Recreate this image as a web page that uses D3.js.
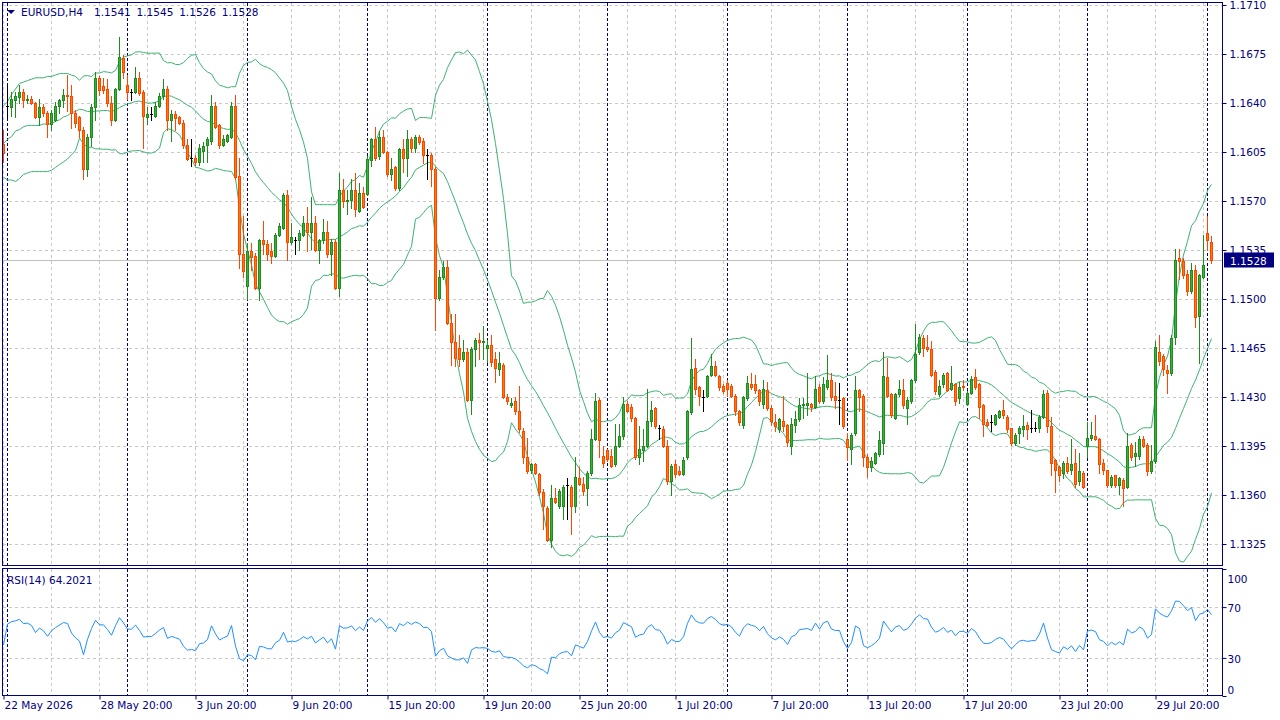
<!DOCTYPE html>
<html>
<head>
<meta charset="utf-8">
<script src="https://cdn.jsdelivr.net/npm/d3@7"></script>
<style>
  body { margin: 0; background: #fff; }
  text { font-family: "DejaVu Sans", sans-serif; font-size: 10.5px; }
</style>
</head>
<body>
<svg id="chart" width="1280" height="720"></svg>
<script>
// EURUSD H4, 303 bars. Prices are stored in pips above 1.1000
const base = 1.1;

const open = [
  611,638,637,642,644,648,642,643,640,630, 637,633,625,628,638,642,646,645,633,630,
  621,593,616,637,658,652,650,640,628,650, 672,653,648,648,658,648,630,632,631,638,
  645,650,628,632,630,626,610,601,601,598, 606,610,613,638,624,610,613,616,638,588,
  532,509,534,531,508,542,539,534,531,546, 551,574,541,542,542,546,554,548,554,535,
  542,548,532,541,508,578,570,571,578,563, 576,575,599,614,602,616,605,589,594,579,
  607,601,614,608,616,613,603,603,593,501, 516,523,483,469,465,457,462,428,464,471,
  469,465,467,457,450,453,430,424,427,420, 406,387,378,382,375,362,351,328,358,352,
  352,367,366,352,372,368,365,376,400,428, 388,392,388,382,395,402,425,423,415,387,
  392,395,413,422,408,407,395,370,382,377, 375,387,419,451,437,430,431,446,452,445,
  438,440,438,431,420,410,429,439,439,435, 425,435,422,412,407,413,410,395,410,414,
  424,424,425,423,437,427,437,442,431,428, 429,400,393,404,435,431,387,380,383,389,
  397,444,432,415,432,435,422,427,442,462, 472,466,464,448,432,439,447,436,439,429,
  438,425,433,444,439,424,412,412,411,416, 421,416,408,397,404,407,410,408,408,408,
  416,433,409,385,380,376,383,378,383,370, 376,395,401,402,400,383,378,367,374,367,
  371,366,396,388,388,400,396,377,384,462, 459,449,447,473,529,527,518,506,521,488,
  516,547,541
];
const high = [
  621,652,648,648,653,650,646,645,641,643, 639,634,635,641,643,650,660,653,635,631,
  623,618,639,662,659,658,657,645,651,687, 674,660,650,666,662,649,637,637,641,647,
  657,652,635,634,631,628,614,614,603,611, 612,616,646,641,625,617,618,641,646,601,
  559,540,540,533,543,556,542,540,547,554, 576,578,554,544,549,559,566,573,559,543,
  557,556,543,543,590,586,578,586,590,583, 580,602,615,623,620,621,606,601,595,608,
  614,621,616,617,617,615,607,604,594,521, 527,528,489,489,474,471,465,466,472,476,
  481,471,474,462,462,454,432,429,430,438, 408,401,383,383,376,364,352,367,365,364,
  367,372,367,387,380,373,377,407,433,429, 395,393,393,411,411,430,427,425,416,409,
  407,436,427,423,410,409,399,382,385,381, 387,421,472,457,438,435,446,461,456,446,
  439,442,439,432,421,431,445,447,446,436, 442,441,424,418,415,431,411,415,420,429,
  429,447,426,445,439,444,460,447,441,440, 430,404,404,445,436,432,389,387,391,406,
  462,458,433,433,442,443,430,443,482,475, 474,474,470,449,442,447,448,452,440,441,
  442,434,445,450,440,425,414,417,418,421, 428,417,408,404,409,417,412,421,412,417,
  435,435,416,386,381,384,387,400,393,390, 377,412,412,417,401,386,378,374,374,373,
  372,404,397,398,402,402,397,396,470,474, 461,453,474,536,536,529,521,526,524,518,
  546,559,545
];
const low = [
  598,629,631,630,640,637,640,639,629,624, 631,616,621,627,633,637,634,622,623,616,
  586,588,609,628,646,647,638,624,627,649, 658,643,642,647,646,608,625,628,630,637,
  643,621,613,621,625,608,599,595,596,596, 598,598,611,622,608,609,612,615,586,522,
  516,500,521,507,499,532,528,526,530,545, 550,528,539,532,535,545,534,536,534,526,
  540,530,517,507,502,566,561,565,559,562, 565,574,595,599,600,604,588,585,578,578,
  591,588,605,605,611,597,586,581,478,499, 514,482,453,452,452,456,427,418,452,457,
  457,455,452,441,446,429,425,423,418,405, 383,376,376,375,360,336,327,323,354,351,
  343,343,332,348,367,360,353,374,399,387, 380,384,380,381,394,400,419,413,386,382,
  384,394,409,408,400,394,368,360,373,374, 374,386,418,432,424,420,430,445,445,435,
  433,431,430,417,410,408,428,436,433,424, 422,421,410,406,405,406,395,389,405,413,
  415,417,420,422,426,426,436,428,422,411, 408,385,382,403,420,381,373,377,382,388,
  389,430,416,414,431,422,411,426,441,461, 459,463,445,432,431,437,434,435,424,426,
  435,424,432,436,415,402,409,406,410,415, 415,405,396,396,397,402,400,405,406,405,
  415,405,374,362,370,372,376,375,366,367, 365,387,399,399,376,375,366,366,366,361,
  352,365,385,381,386,394,374,376,383,453, 446,433,446,468,514,515,503,504,480,454,
  515,535,526
];
const close = [
  604,638,643,645,648,642,643,640,630,637, 633,625,633,638,642,646,645,633,626,621,
  593,616,637,658,649,649,640,628,650,673, 662,648,648,658,647,631,632,632,638,645,
  650,628,632,629,626,610,600,601,598,608, 609,614,638,623,610,614,617,638,587,532,
  520,534,530,508,542,539,532,531,546,552, 574,541,544,542,547,554,548,554,535,542,
  548,532,541,508,578,570,571,578,564,576, 566,600,614,601,616,605,589,593,579,607,
  601,614,608,616,612,603,603,593,501,516, 523,483,469,458,457,462,428,464,471,469,
  470,467,455,451,454,430,427,426,420,407, 387,377,382,376,362,352,328,358,355,363,
  366,367,352,373,368,363,376,400,427,399, 383,386,381,395,402,425,420,415,387,393,
  395,413,421,409,408,395,370,381,375,375, 385,420,450,436,431,430,445,452,446,437,
  434,436,431,420,412,430,440,437,435,427, 436,422,413,409,414,409,398,411,414,424,
  425,426,423,436,427,439,442,430,428,428, 409,394,403,435,430,387,380,384,390,399,
  445,431,417,432,436,424,428,442,461,473, 465,464,446,434,438,446,435,440,427,437,
  437,433,443,437,423,411,410,412,417,420, 417,407,397,403,408,409,407,408,408,416,
  432,409,383,378,374,383,377,382,368,377, 366,401,403,400,382,378,367,373,367,372,
  365,395,387,390,400,395,377,384,466,456, 450,447,472,528,527,517,506,521,487,517,
  524,542,528
];

// Bollinger(20,2) for the first 19 bars (their window starts before the chart)
const bbUpperHead  = [638,641,646,650,654,655,656,657,658,658,658,659,659,660,661,661,661,660,659];
const bbMiddleHead = [611,614,616,620,621,623,624,624,624,624,625,625,625,627,628,630,631,633,634];
const bbLowerHead  = [587,585,585,584,586,589,590,591,591,591,591,591,592,594,596,598,600,603,606];

// RSI(14) Wilder averages at the first bar, fitted to the first two readings
const rsiStartGain = 2.76;
const rsiStartLoss = 4.11;

const priceTicks = [1.1325,1.1360,1.1395,1.1430,1.1465,1.1500,1.1535,1.1570,1.1605,1.1640,1.1675,1.1710];
const rsiTicks = [0, 30, 70, 100];
const rsiLevels = [30, 70];
const dateBars = [0,24,48,72,96,120,144,168,192,216,240,264,288];
const dateLabels = ['22 May 2026','28 May 20:00','3 Jun 20:00','9 Jun 20:00','15 Jun 20:00','19 Jun 20:00',
  '25 Jun 20:00','1 Jul 20:00','7 Jul 20:00','13 Jul 20:00','17 Jul 20:00','23 Jul 20:00','29 Jul 20:00'];
const gridBars = d3.range(0, 303, 12);
const weekBars = [1,31,61,91,121,151,181,211,241,271,301];
const headerValues = ['1.1541','1.1545','1.1526','1.1528'];
const lastPrice = 1.1528;

const navy = '#000080';
const svg = d3.select('#chart');

// scales
const x = d3.scaleLinear().domain([0, 302]).range([3.5, 1211.5]);
const y = d3.scaleLinear().domain([1.1325, 1.1710]).range([544, 5]);
const py = (v) => y(base + v / 10000);
const yr = d3.scaleLinear().domain([0, 100]).range([696, 569]);

const main = { top: 3, bottom: 566 };
const sub = { top: 569, bottom: 695 };

// indicators
const bands = close.map(function (c, i) {
  if (i < 19) return { up: bbUpperHead[i], mid: bbMiddleHead[i], lo: bbLowerHead[i] };
  const w = close.slice(i - 19, i + 1);
  const m = d3.mean(w);
  const sd = Math.sqrt(d3.mean(w, (v) => (v - m) * (v - m)));
  return { up: m + 2 * sd, mid: m, lo: m - 2 * sd };
});
let avgGain = rsiStartGain, avgLoss = rsiStartLoss;
const rsi = close.map(function (c, i) {
  if (i > 0) {
    const d = c - close[i - 1];
    avgGain = (avgGain * 13 + Math.max(d, 0)) / 14;
    avgLoss = (avgLoss * 13 + Math.max(-d, 0)) / 14;
  }
  return 100 - 100 / (1 + avgGain / avgLoss);
});

const defs = svg.append('defs');
defs.append('clipPath').attr('id', 'clipMain').append('rect')
  .attr('x', 3).attr('y', 3).attr('width', 1219).attr('height', 563);
defs.append('clipPath').attr('id', 'clipSub').append('rect')
  .attr('x', 3).attr('y', 569).attr('width', 1219).attr('height', 126);

// grid
const grid = svg.append('g').attr('stroke', '#c8c8c8').attr('stroke-dasharray', '3,3').attr('shape-rendering', 'crispEdges');
grid.selectAll('.hg').data(priceTicks).enter().append('line')
  .attr('x1', 3).attr('x2', 1222).attr('y1', (d) => Math.round(y(d)) + 0.5).attr('y2', (d) => Math.round(y(d)) + 0.5);
grid.selectAll('.rg').data(rsiLevels).enter().append('line')
  .attr('x1', 3).attr('x2', 1222).attr('y1', (d) => Math.round(yr(d)) + 0.5).attr('y2', (d) => Math.round(yr(d)) + 0.5);
[main, sub].forEach(function (p) {
  grid.append('g').selectAll('line').data(gridBars).enter().append('line')
    .attr('x1', (d) => x(d)).attr('x2', (d) => x(d)).attr('y1', p.top).attr('y2', p.bottom);
});

// weekly separators
const sep = svg.append('g').attr('stroke', navy).attr('stroke-dasharray', '3,2').attr('shape-rendering', 'crispEdges');
[main, sub].forEach(function (p) {
  sep.append('g').selectAll('line').data(weekBars).enter().append('line')
    .attr('x1', (d) => x(d)).attr('x2', (d) => x(d)).attr('y1', p.top).attr('y2', p.bottom);
});

// last price line
svg.append('line').attr('x1', 3).attr('x2', 1222)
  .attr('y1', Math.round(y(lastPrice)) + 0.5).attr('y2', Math.round(y(lastPrice)) + 0.5)
  .attr('stroke', '#c0c0c0').attr('shape-rendering', 'crispEdges');

// bollinger bands
const plot = svg.append('g').attr('clip-path', 'url(#clipMain)');
['up', 'mid', 'lo'].forEach(function (k) {
  plot.append('path').datum(bands)
    .attr('fill', 'none').attr('stroke', '#3cb371').attr('stroke-width', 1)
    .attr('d', d3.line().x((d, i) => x(i)).y((d) => py(d[k])));
});

// candles
const bars = plot.selectAll('.bar').data(close.map((c, i) => i)).enter().append('g')
  .attr('shape-rendering', 'crispEdges');
function colorOf(i) {
  if (close[i] > open[i]) return { line: '#1f8c1f', fill: '#36b336' };
  if (close[i] < open[i]) return { line: '#ff4500', fill: '#ff7a00' };
  return { line: '#000', fill: '#000' };
}
bars.append('line')
  .attr('x1', (i) => x(i)).attr('x2', (i) => x(i))
  .attr('y1', (i) => Math.round(py(high[i]))).attr('y2', (i) => Math.round(py(low[i])) + 1)
  .attr('stroke', (i) => colorOf(i).line);
bars.filter((i) => close[i] !== open[i]).append('rect')
  .attr('x', (i) => x(i) - 1)
  .attr('y', (i) => Math.round(py(Math.max(open[i], close[i]))) + 0.5)
  .attr('width', 2)
  .attr('height', (i) => Math.max(1, Math.round(py(Math.min(open[i], close[i]))) - Math.round(py(Math.max(open[i], close[i])))))
  .attr('fill', (i) => colorOf(i).fill)
  .attr('stroke', (i) => colorOf(i).line);
bars.filter((i) => close[i] === open[i]).append('line')
  .attr('x1', (i) => x(i) - 1.5).attr('x2', (i) => x(i) + 1.5)
  .attr('y1', (i) => Math.round(py(close[i])) + 0.5).attr('y2', (i) => Math.round(py(close[i])) + 0.5)
  .attr('stroke', '#000');

// RSI line
svg.append('g').attr('clip-path', 'url(#clipSub)').append('path').datum(rsi)
  .attr('fill', 'none').attr('stroke', '#1e90ff').attr('stroke-width', 1)
  .attr('d', d3.line().x((d, i) => x(i)).y((d) => yr(d)));

// panel frames
svg.append('rect').attr('x', 2.5).attr('y', 2.5).attr('width', 1220).attr('height', 563)
  .attr('fill', 'none').attr('stroke', navy).attr('shape-rendering', 'crispEdges');
svg.append('rect').attr('x', 2.5).attr('y', 568.5).attr('width', 1220).attr('height', 127)
  .attr('fill', 'none').attr('stroke', navy).attr('shape-rendering', 'crispEdges');

// axes
function styleAxis(g) {
  g.select('.domain').remove();
  g.style('color', navy).attr('font-family', null).attr('font-size', null);
  g.selectAll('text').attr('fill', navy);
}
svg.append('g').attr('transform', 'translate(1222.5,0)')
  .call(d3.axisRight(y).tickValues(priceTicks).tickFormat(d3.format('.4f')).tickSize(4).tickPadding(3))
  .call(styleAxis);
const rsiAxis = svg.append('g').attr('transform', 'translate(1222.5,0)')
  .call(d3.axisRight(yr).tickValues(rsiTicks).tickSize(4).tickPadding(1))
  .call(styleAxis);
rsiAxis.selectAll('.tick text').attr('dy', function (d) {
  if (d === 100) return '13px';
  if (d === 0) return '-3px';
  return '0.42em';
});
const dateAxis = svg.append('g').attr('transform', 'translate(0,695.5)')
  .call(d3.axisBottom(x).tickValues(dateBars).tickFormat((d, i) => dateLabels[i]).tickSize(4).tickPadding(2))
  .call(styleAxis);
dateAxis.selectAll('.tick text').attr('text-anchor', 'start').attr('dx', '0.5px');

// last price marker
svg.append('rect').attr('x', 1224).attr('y', Math.round(y(lastPrice)) - 7.5).attr('width', 50).attr('height', 15)
  .attr('fill', navy);
svg.append('text').attr('x', 1230).attr('y', Math.round(y(lastPrice)) + 4.5)
  .attr('fill', '#fff').text(d3.format('.4f')(lastPrice));

// headers
svg.append('path').attr('d', 'M7,10 L15,10 L11,14 Z').attr('fill', navy);
svg.append('text').attr('x', 21).attr('y', 16).attr('fill', navy).text('EURUSD,H4');
svg.selectAll('.hv').data(headerValues).enter().append('text')
  .attr('x', (d, i) => 94 + i * 42.6).attr('y', 16).attr('fill', navy).text((d) => d);
svg.append('text').attr('x', 7).attr('y', 584).attr('fill', navy).text('RSI(14) 64.2021');
</script>
</body>
</html>
